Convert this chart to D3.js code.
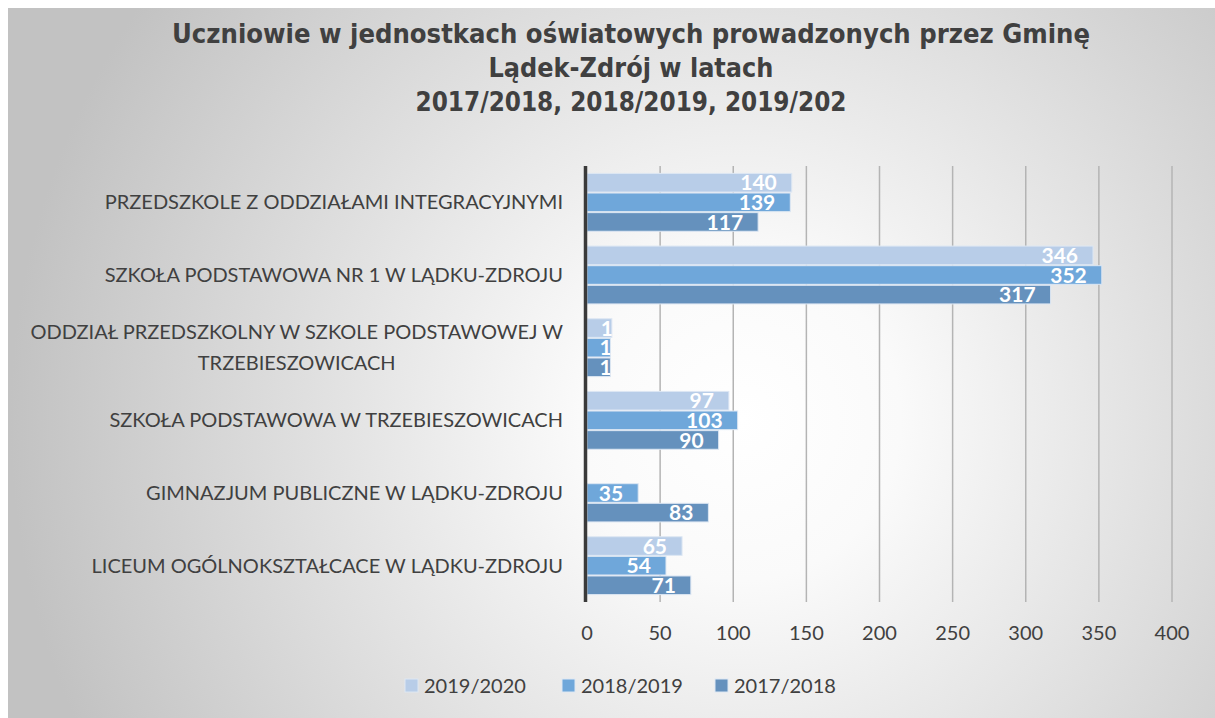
<!DOCTYPE html>
<html>
<head>
<meta charset="utf-8">
<script src="https://cdn.jsdelivr.net/npm/d3@7"></script>
<style>
  html, body { margin: 0; padding: 0; background: #fff; }
  svg { display: block; }
</style>
</head>
<body>
<svg id="chart" width="1215" height="718"></svg>
<script>
const width = 1215
const height = 718

const titleLines = [
    "Uczniowie w jednostkach oświatowych prowadzonych przez Gminę",
    "Lądek-Zdrój w latach",
    "2017/2018, 2018/2019, 2019/202"
]
const titleWidths = [918, 285, 431]

const categories = [
    "PRZEDSZKOLE Z ODDZIAŁAMI INTEGRACYJNYMI",
    "SZKOŁA PODSTAWOWA NR 1 W LĄDKU-ZDROJU",
    "ODDZIAŁ PRZEDSZKOLNY W SZKOLE PODSTAWOWEJ W TRZEBIESZOWICACH",
    "SZKOŁA PODSTAWOWA W TRZEBIESZOWICACH",
    "GIMNAZJUM PUBLICZNE W LĄDKU-ZDROJU",
    "LICEUM OGÓLNOKSZTAŁCACE W LĄDKU-ZDROJU"
]
// wrapped lines of the long category label
const categoryLines = {
    "ODDZIAŁ PRZEDSZKOLNY W SZKOLE PODSTAWOWEJ W TRZEBIESZOWICACH":
        ["ODDZIAŁ PRZEDSZKOLNY W SZKOLE PODSTAWOWEJ W", "TRZEBIESZOWICACH"]
}

const seriesNames = ["2019/2020", "2018/2019", "2017/2018"]
const seriesColors = ["#b8cde8", "#6fa7da", "#6591bd"]

const values2019 = [140, 346, 17, 97, null, 65]
const values2018 = [139, 352, 16, 103, 35, 54]
const values2017 = [117, 317, 16, 90, 83, 71]
const seriesValues = [values2019, values2018, values2017]

const xTicks = [0, 50, 100, 150, 200, 250, 300, 350, 400]

const margin = { left: 587, right: 43, top: 166, bottom: 116 }
const textColor = "#404040"
const labelFont = "Lato, 'Open Sans', sans-serif"

var svg = d3.select("#chart")

// background
var defs = svg.append("defs")
var grad = defs.append("radialGradient")
    .attr("id", "bg")
    .attr("gradientUnits", "userSpaceOnUse")
    .attr("cx", 740).attr("cy", 420).attr("r", 730)
grad.append("stop").attr("offset", "0%").attr("stop-color", "#ffffff")
grad.append("stop").attr("offset", "22%").attr("stop-color", "#fafafa")
grad.append("stop").attr("offset", "100%").attr("stop-color", "#c2c2c2")

svg.append("rect")
    .attr("x", 8).attr("y", 8)
    .attr("width", width - 8).attr("height", height - 8)
    .attr("fill", "url(#bg)")

// title
svg.append("g").selectAll("text")
    .data(titleLines)
    .enter().append("text")
    .attr("x", 631)
    .attr("y", (d, i) => 43 + i * 34)
    .attr("text-anchor", "middle")
    .attr("font-family", "'DejaVu Sans', sans-serif")
    .attr("font-weight", "bold")
    .attr("font-size", 27)
    .attr("fill", textColor)
    .attr("textLength", (d, i) => titleWidths[i])
    .attr("lengthAdjust", "spacingAndGlyphs")
    .text(d => d)

var x = d3.scaleLinear()
    .domain([0, 400])
    .range([margin.left, width - margin.right])

var y = d3.scaleBand()
    .domain(categories)
    .range([margin.top, height - margin.bottom])
    .paddingInner(0.19)
    .paddingOuter(0.095)

var ySeries = d3.scaleBand()
    .domain(seriesNames)
    .range([0, y.bandwidth()])

// gridlines
svg.append("g").selectAll("line")
    .data(xTicks.slice(1))
    .enter().append("line")
    .attr("x1", d => x(d)).attr("x2", d => x(d))
    .attr("y1", margin.top).attr("y2", height - margin.bottom)
    .attr("stroke", "#b4b4b4")
    .attr("stroke-width", 1.5)

// x tick labels
svg.append("g").selectAll("text")
    .data(xTicks)
    .enter().append("text")
    .attr("x", d => x(d))
    .attr("y", 640)
    .attr("text-anchor", "middle")
    .attr("font-family", labelFont)
    .attr("font-size", 20)
    .attr("fill", textColor)
    .text(d => d)

// bars
var barData = []
categories.forEach((c, ci) => {
    seriesNames.forEach((s, si) => {
        let v = seriesValues[si][ci]
        if (v === null) return
        barData.push({ category: c, series: s, si: si, value: v, id: "b" + ci + "_" + si })
    })
})

defs.selectAll("clipPath")
    .data(barData)
    .enter().append("clipPath")
    .attr("id", d => "clip_" + d.id)
    .append("rect")
    .attr("x", x(0))
    .attr("y", d => y(d.category) + ySeries(d.series))
    .attr("width", d => x(d.value) - x(0))
    .attr("height", ySeries.bandwidth())

svg.append("g").selectAll("rect")
    .data(barData)
    .enter().append("rect")
    .attr("x", x(0))
    .attr("y", d => y(d.category) + ySeries(d.series) + 0.5)
    .attr("width", d => x(d.value) - x(0))
    .attr("height", ySeries.bandwidth() - 1)
    .attr("fill", d => seriesColors[d.si])
    .attr("stroke", "#dde7f3")
    .attr("stroke-width", 1)

// data labels (narrow bars clip their label, as in the original)
svg.append("g").selectAll("text")
    .data(barData)
    .enter().append("text")
    .attr("clip-path", d => "url(#clip_" + d.id + ")")
    .attr("x", d => (x(d.value) - x(0) < 40) ? x(d.value) - 11 : x(d.value) - 15)
    .attr("y", d => y(d.category) + ySeries(d.series) + ySeries.bandwidth() / 2)
    .attr("dy", "0.36em")
    .attr("text-anchor", d => (x(d.value) - x(0) < 40) ? "start" : "end")
    .attr("font-family", labelFont)
    .attr("font-weight", "bold")
    .attr("font-size", 21)
    .attr("fill", "#ffffff")
    .text(d => d.value)

// category labels
var catLabels = svg.append("g").selectAll("text")
    .data(categories)
    .enter().append("text")
    .attr("font-family", labelFont)
    .attr("font-size", 20)
    .attr("fill", textColor)

catLabels.each(function (c) {
    let lines = categoryLines[c] || [c]
    let t = d3.select(this)
    let lineH = 31
    let cy = y(c) + y.bandwidth() / 2
    lines.forEach((line, i) => {
        t.append("tspan")
            .attr("y", cy + (i - (lines.length - 1) / 2) * lineH)
            .attr("dy", "0.35em")
            .text(line)
    })
    // right-align the block, centre lines within it
    let widths = []
    t.selectAll("tspan").each(function () { widths.push(this.getComputedTextLength()) })
    let blockW = d3.max(widths)
    let right = margin.left - 24
    t.attr("text-anchor", "middle")
    t.selectAll("tspan").attr("x", right - blockW / 2)
})

// vertical axis line
svg.append("line")
    .attr("x1", x(0) - 1.5).attr("x2", x(0) - 1.5)
    .attr("y1", margin.top).attr("y2", height - margin.bottom)
    .attr("stroke", "#3a3a3a")
    .attr("stroke-width", 3.5)

// legend
var legendX = [405, 562, 715]
var legend = svg.append("g").selectAll("g")
    .data(seriesNames)
    .enter().append("g")
    .attr("transform", (d, i) => "translate(" + legendX[i] + ",686)")

legend.append("rect")
    .attr("x", 0).attr("y", -7)
    .attr("width", 13).attr("height", 13)
    .attr("fill", (d, i) => seriesColors[i])
    .attr("stroke", "#dde7f3")

legend.append("text")
    .attr("x", 19)
    .attr("dy", "0.35em")
    .attr("font-family", labelFont)
    .attr("font-size", 20)
    .attr("fill", textColor)
    .text(d => d)
</script>
</body>
</html>
